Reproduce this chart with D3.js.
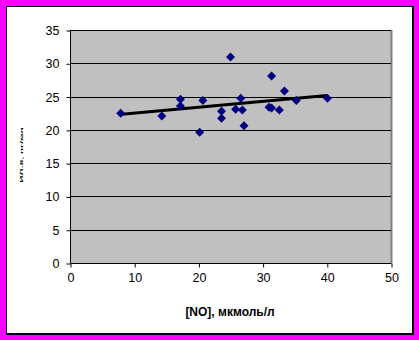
<!DOCTYPE html>
<html><head><meta charset="utf-8">
<script src="https://cdn.jsdelivr.net/npm/d3@7"></script>
<style>
html,body{margin:0;padding:0;background:#ff00ff;}
svg{display:block;}
text{font-family:"Liberation Sans",Arial,sans-serif;}
</style></head>
<body>
<script>
// Data
const xValues = [7.9, 14.3, 17.2, 17.2, 20.2, 20.7, 23.6, 23.6, 25.0, 25.8, 26.6, 26.85, 27.1, 31.0, 31.4, 31.4, 32.6, 33.4, 35.25, 40.1];
const yValues = [22.5, 22.1, 24.6, 23.6, 19.65, 24.4, 22.8, 21.75, 30.95, 23.1, 24.75, 23.0, 20.6, 23.4, 23.3, 28.1, 23.0, 25.85, 24.4, 24.75];
const trendX = [8.1, 40.0];
const trendY = [22.35, 25.15];
const xTicks = [0, 10, 20, 30, 40, 50];
const yTicks = [0, 5, 10, 15, 20, 25, 30, 35];
const xTitle = "[NO], мкмоль/л";
const yTitle = "ИЛ-8, пг/мл";

const W = 419, H = 340;
const svg = d3.select("body").append("svg").attr("width", W).attr("height", H);

// chart area frame
svg.append("rect").attr("x", 0).attr("y", 0).attr("width", W).attr("height", H).attr("fill", "#ff00ff");
svg.append("rect").attr("x", 6).attr("y", 6).attr("width", 408).attr("height", 329).attr("fill", "#000");
svg.append("rect").attr("x", 7).attr("y", 7).attr("width", 405).attr("height", 326).attr("fill", "#fff");

const L = 70, R = 391, T = 30, B = 263;
const x = d3.scaleLinear().domain([0, 50]).range([L, R]);
const y = d3.scaleLinear().domain([0, 35]).range([B, T]);

// plot area
svg.append("rect").attr("x", L).attr("y", T).attr("width", R - L).attr("height", B - T).attr("fill", "#c0c0c0");
svg.append("line").attr("x1", R + 0.5).attr("x2", R + 0.5).attr("y1", T).attr("y2", B)
  .attr("stroke", "#808080").attr("stroke-width", 2);

// gridlines
svg.append("g").selectAll("line").data(yTicks.filter(d => d > 0)).join("line")
  .attr("x1", L).attr("x2", R).attr("y1", d => Math.round(y(d)) + 0.5).attr("y2", d => Math.round(y(d)) + 0.5)
  .attr("stroke", "#000").attr("stroke-width", 1);

// axes
const yAxis = d3.axisLeft(y).tickValues(yTicks).tickSize(4).tickPadding(7).tickFormat(d3.format("d"));
const gy = svg.append("g").attr("transform", `translate(${L + 0.5},0.5)`).call(yAxis);
const xAxis = d3.axisBottom(x).tickValues(xTicks).tickSize(4).tickPadding(6).tickFormat(d3.format("d"));
const gx = svg.append("g").attr("transform", `translate(0.5,${B + 0.5})`).call(xAxis);
[gy, gx].forEach(g => {
  g.select(".domain").attr("stroke", "#000");
  g.selectAll(".tick line").attr("stroke", "#000");
  g.selectAll(".tick text").attr("fill", "#000").style("font-size", "12.5px")
   .style("font-family", "'Liberation Sans',Arial,sans-serif");
});
gy.select(".domain").attr("d", `M0,${B - 0.5}V${T}`);
gx.select(".domain").attr("d", `M${L},0H${R}`);

// trendline
const pts = trendX.map((d, i) => [d, trendY[i]]);
svg.append("path").attr("d", d3.line().x(d => x(d[0])).y(d => y(d[1]))(pts))
  .attr("stroke", "#000").attr("stroke-width", 3).attr("fill", "none");

// markers
const diamond = "M0,-4.5L4.5,0L0,4.5L-4.5,0Z";
svg.append("g").selectAll("path").data(xValues.map((d, i) => [d, yValues[i]])).join("path")
  .attr("d", diamond)
  .attr("transform", d => `translate(${x(d[0])},${y(d[1])})`)
  .attr("fill", "#000080");

// titles
svg.append("text").attr("x", 230).attr("y", 316).attr("text-anchor", "middle")
  .style("font-size", "12px").style("font-weight", "bold").attr("fill", "#000").text(xTitle);
svg.append("text").attr("transform", "translate(23,155) scale(0.35,1) rotate(-90)")
  .attr("text-anchor", "middle").style("font-size", "10px").style("font-weight", "bold")
  .attr("fill", "#000").text(yTitle);
</script>
</body></html>
